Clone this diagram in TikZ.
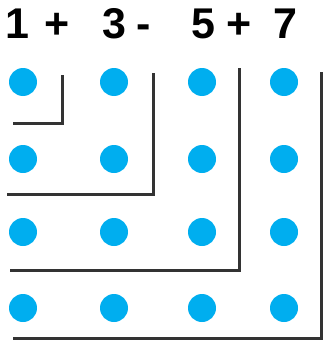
\documentclass[tikz,border=0pt]{standalone}
\usepackage{fontspec}
\setmainfont{Liberation Sans}
\definecolor{dotcyan}{HTML}{00AEEF}
\begin{document}
\begin{tikzpicture}[x=1pt,y=-1pt,
    dot/.style={circle,fill=dotcyan,inner sep=0pt,minimum size=28pt},
    bar/.style={line width=3pt,black!80},
    term/.style={font=\fontsize{43}{43}\selectfont\bfseries,inner sep=0pt,anchor=base}]
    \useasboundingbox (0,0) rectangle (324,343);
    % sum written across the top
    \node[term] (n1) at (17,38) {1};
    \node[term] (p1) at (57,38) {+};
    \node[term] (n3) at (114,38) {3};
    \node[term] (m1) at (144,38) {-};
    \node[term] (n5) at (203,38) {5};
    \node[term] (p2) at (239,38) {+};
    \node[term] (n7) at (285,38) {7};
    % grid of dots
    \foreach \r/\y in {1/82,2/159,3/232,4/308}
        \foreach \c/\x in {1/23,2/114,3/202,4/284}
            \node[dot] (d\r\c) at (\x,\y) {};
    % nested corners
    \draw[bar] (62,75) -- (62,123) -- (13,123);
    \draw[bar] (153,73) -- (153,194) -- (7,194);
    \draw[bar] (239,68) -- (239,270) -- (10,270);
    \draw[bar] (321,72) -- (321,338) -- (13,338);
\end{tikzpicture}
\end{document}
